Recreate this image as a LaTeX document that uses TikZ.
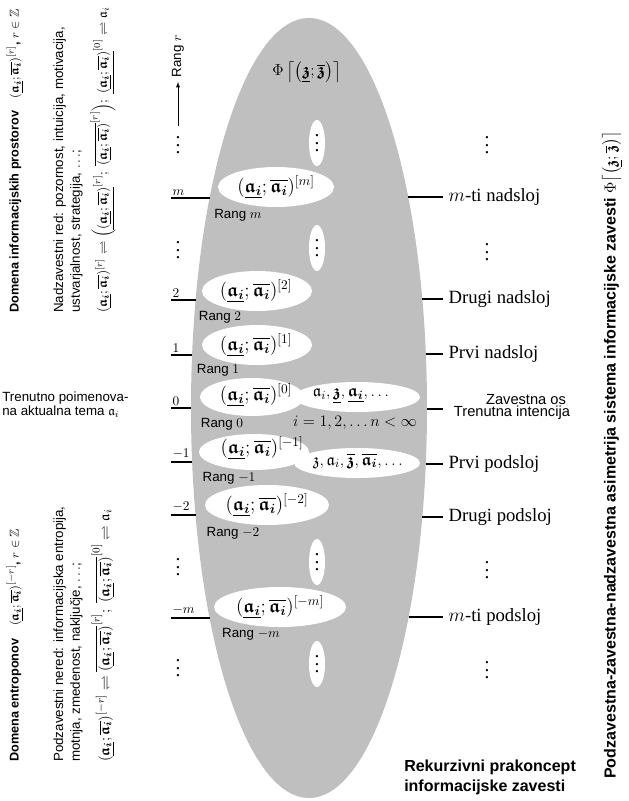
\documentclass[tikz,border=0pt]{standalone}
\usepackage{amsmath,amssymb}
\usepackage[no-math]{fontspec}
\setmainfont{Liberation Serif}
\setsansfont{Liberation Sans}
\usetikzlibrary{positioning}

% bold fraktur letters and the pair (a_i ; a_i)
\newcommand{\fai}{\boldsymbol{\mathfrak{a}_i}}
\newcommand{\fzb}{\boldsymbol{\mathfrak{z}}}
\newcommand{\fpar}{(\underline{\fai};\overline{\fai})}
\newcommand{\vdts}{\scalebox{1.45}{$\vdots$}}

\begin{document}
\begin{tikzpicture}[x=0.75pt,y=-0.75pt,
  sys/.style={fill=black!25},
  hole/.style={fill=white},
  tick/.style={line width=1.2pt},
  lay/.style={font=\fontsize{14}{16}\selectfont},
  lax/.style={font=\fontsize{12.5}{14}\selectfont},
  rang/.style={font=\sffamily\fontsize{10}{12}\selectfont},
  sloj/.style={anchor=west, inner xsep=4pt, font=\fontsize{14}{16}\selectfont},
  side/.style={rotate=90, anchor=west, inner sep=0pt, align=left,
    font=\sffamily\fontsize{10}{12.5}\selectfont},
  dts/.style={anchor=base, yshift=-6.6pt, inner sep=0pt}]
\useasboundingbox (0,0) rectangle (629,801);

% sistem informacijske zavesti
\fill[sys] (309,408) ellipse [x radius=118, y radius=390];
\foreach \cx/\cy/\rx/\ry in {276/187/58/20, 257/291/55/20, 257/345/55/20,
    252/397/52/19, 357/397/63/15, 254/452/55/18, 357/463/63/15,
    267/505/62/20, 280/607/66/20}
  \fill[hole] (\cx,\cy) ellipse [x radius=\rx, y radius=\ry];
\foreach \cy [count=\k] in {143,248,562,664} {
  \fill[hole] (317,\cy) ellipse [x radius=8, y radius=23];
  \node[dts] (cd\k) at (317,\cy) {\vdts};
}

\node[font=\fontsize{13}{15}\selectfont] (phi) at (307,72)
  {$\Phi\left\lceil\left(\underline{\fzb};\overline{\fzb}\right)\right\rceil$};

% sloji
\node[lay] (pm) at (276,187) {$\fpar^{[m]}$};
\node[lay] (p2) at (256,291) {$\fpar^{[2]}$};
\node[lay] (p1) at (256,345) {$\fpar^{[1]}$};
\node[lay] (p0) at (256,395) {$\fpar^{[0]}$};
\node[lax] (q0) at (351,396) {$\mathfrak{a}_i,\underline{\fzb},\underline{\fai},\ldots$};
\node[lax] (n0) at (355,423) {$i=1,2,\ldots n<\infty$};
\node[lay] (pn1) at (262,448) {$\fpar^{[-1]}$};
\node[lax] (qn1) at (358,461) {$\mathfrak{z},\mathfrak{a}_i,\overline{\fzb},\overline{\fai},\ldots$};
\node[lay] (pn2) at (267,505) {$\fpar^{[-2]}$};
\node[lay] (pnm) at (280,607) {$\fpar^{[-m]}$};

\node[rang] (rgm) at (238,215) {Rang $m$};
\node[rang] (rg2) at (220,317) {Rang $2$};
\node[rang] (rg1) at (218,370) {Rang $1$};
\node[rang] (rg0) at (222,424) {Rang $0$};
\node[rang] (rgn1) at (229,478) {Rang $-1$};
\node[rang] (rgn2) at (233,533) {Rang $-2$};
\node[rang] (rgnm) at (251,634) {Rang $-m$};

% os rangov (levo)
\foreach \y/\xe/\lab/\nm in {198/209.6/m/tm, 300/195.6/2/t2, 355/192.1/1/t1,
    408/191/0/t0, 462/192.1/-1/tn1, 515/195.5/-2/tn2, 618/209.6/-m/tnm} {
  \node[anchor=south west, inner xsep=1pt, inner ysep=2pt,
    font=\fontsize{10}{12}\selectfont] (\nm) at (171,\y) {$\lab$};
  \draw[tick] (\nm.south west) -- (\xe,\y);
}
\foreach \cy [count=\k] in {145,250,567,668}
  \node[dts] (ld\k) at (178,\cy) {\vdts};
\node[rang, rotate=90, anchor=west] (rr) at (178,82) {Rang $r$};
\coordinate (ra) at (178,126);
\draw[-latex] (ra) -- (rr.west);

% sloji (desno)
\foreach \y/\xe/\lab/\nm in {197/408.4/{$m$-ti nadsloj}/sm, 299/422.4/{Drugi nadsloj}/s2,
    354/425.9/{Prvi nadsloj}/s1, 464/425.8/{Prvi podsloj}/sn1,
    517/422.3/{Drugi podsloj}/sn2, 617/408.6/{$m$-ti podsloj}/snm} {
  \node[sloj] (\nm) at (443,\y) {\lab};
  \draw[tick] (\xe,\y) -- (\nm.west);
}
\foreach \cy [count=\k] in {145,252,570,670}
  \node[dts] (rd\k) at (487,\cy) {\vdts};
\node[font=\sffamily\fontsize{11}{12}\selectfont, inner sep=0pt] (zos) at (526,400) {Zavestna os};
\node[font=\sffamily\fontsize{11}{12}\selectfont, inner sep=0pt] (tin) at (512,413) {Trenutna intencija};
\coordinate (ze) at (427,409);
\draw[tick] (ze) -- ++(16,0);

% domene (levo, navpicno)
\node[side, font=\sffamily\bfseries\fontsize{9.5}{12.5}\selectfont] (dinf) at (15,313)
  {Domena informacijskih prostorov\quad $\fpar^{[r]}$, $r\in\mathbb{Z}$};
\node[side] (nadz) at (68,313)
  {Nadzavestni red: pozornost, intuicija, motivacija,\\ustvarjalnost, strategija, $\ldots$;};
\node[side] (fnad) at (103,313)
  {$\fpar^{[r]}\rightleftharpoons\Bigl(\underline{\fpar}^{[r]};\ \overline{\fpar}^{[r]}\Bigr);\
   \underline{\fpar}^{[0]}\rightleftharpoons\mathfrak{a}_i$};

\node[anchor=north west, align=left, inner sep=0pt,
  font=\sffamily\fontsize{10}{10.5}\selectfont] (tren) at (2,392)
  {Trenutno poimenova-\\na aktualna tema $\mathfrak{a}_i$};

\node[side, font=\sffamily\bfseries\fontsize{9.5}{12.5}\selectfont] (dent) at (15,762)
  {Domena entroponov\quad $\fpar^{[-r]}$, $r\in\mathbb{Z}$};
\node[side] (podz) at (68,762)
  {Podzavestni nered: informacijska entropija,\\motnja, zmedenost, naključje, $\ldots$;};
\node[side, font=\sffamily\fontsize{11}{12.5}\selectfont] (fpod) at (103,762)
  {$\fpar^{[-r]}\rightleftharpoons\overline{\fpar}^{[r]};\
   \overline{\fpar}^{[0]}\rightleftharpoons\mathfrak{a}_i$};

% naslova
\node[anchor=north west, align=left, inner sep=0pt,
  font=\sffamily\bfseries\fontsize{12}{15}\selectfont] (rek) at (404,760)
  {Rekurzivni prakoncept\\informacijske zavesti};
\node[side, font=\sffamily\bfseries\fontsize{12}{14}\selectfont] (asim) at (612,779)
  {Podzavestna-zavestna-nadzavestna asimetrija sistema informacijske zavesti
   $\Phi\bigl\lceil\bigl(\underline{\fzb};\overline{\fzb}\bigr)\bigr\rceil$};
\end{tikzpicture}
\end{document}
